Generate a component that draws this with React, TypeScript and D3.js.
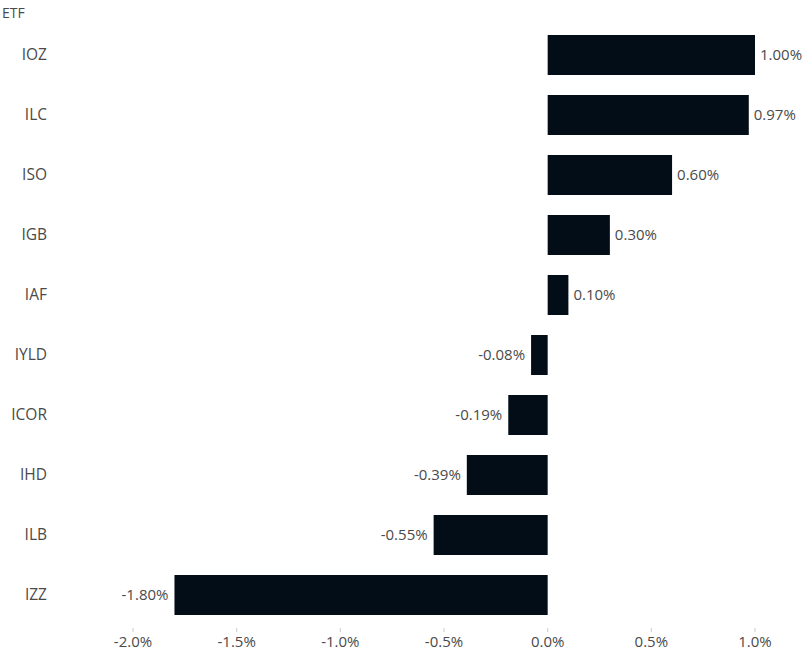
import React from "react"
import * as d3 from "d3"

const etfs = ["IOZ", "ILC", "ISO", "IGB", "IAF", "IYLD", "ICOR", "IHD", "ILB", "IZZ"]
const returns = [1.0, 0.97, 0.6, 0.3, 0.1, -0.08, -0.19, -0.39, -0.55, -1.8]
const xTicks = [-2.0, -1.5, -1.0, -0.5, 0.0, 0.5, 1.0]

const width = 812
const height = 653
const font = "'Open Sans', 'Noto Sans', sans-serif"
const barColor = "#020d18"
const textColor = "#4a4a4a"

export default function App() {
  const x = d3.scaleLinear().domain([-2, 1]).range([133, 755])
  const y = d3
    .scaleBand()
    .domain(etfs)
    .range([25, 625])
    .paddingInner(1 / 3)
    .paddingOuter(1 / 6)

  const data = etfs.map((name, i) => ({ name, value: returns[i] }))

  return (
    <svg
      width={width}
      height={height}
      style={{ position: "absolute", left: 0, top: 0, background: "#fff" }}
      fontFamily={font}
    >
      <text x={2} y={18} fontSize={14} fill={textColor}>
        ETF
      </text>

      {/* category labels */}
      {data.map((d) => (
        <text
          key={"c" + d.name}
          x={47}
          y={(y(d.name) ?? 0) + y.bandwidth() / 2}
          dy="0.35em"
          textAnchor="end"
          fontSize={15.5}
          fill={textColor}
        >
          {d.name}
        </text>
      ))}

      {/* bars */}
      {data.map((d) => (
        <rect
          key={"b" + d.name}
          x={x(Math.min(0, d.value))}
          y={y(d.name)}
          width={Math.abs(x(d.value) - x(0))}
          height={y.bandwidth()}
          fill={barColor}
        />
      ))}

      {/* value labels */}
      {data.map((d) => (
        <text
          key={"v" + d.name}
          x={d.value >= 0 ? x(d.value) + 5 : x(d.value) - 6}
          y={(y(d.name) ?? 0) + y.bandwidth() / 2}
          dy="0.35em"
          textAnchor={d.value >= 0 ? "start" : "end"}
          fontSize={15}
          fill={textColor}
        >
          {d.value.toFixed(2) + "%"}
        </text>
      ))}

      {/* x axis */}
      {xTicks.map((t) => (
        <g key={"t" + t} transform={`translate(${x(t)},0)`}>
          <line y1={628} y2={632} stroke="#ccc" strokeWidth={1} />
          <text y={647} textAnchor="middle" fontSize={15} fill={textColor}>
            {t.toFixed(1) + "%"}
          </text>
        </g>
      ))}
    </svg>
  )
}
